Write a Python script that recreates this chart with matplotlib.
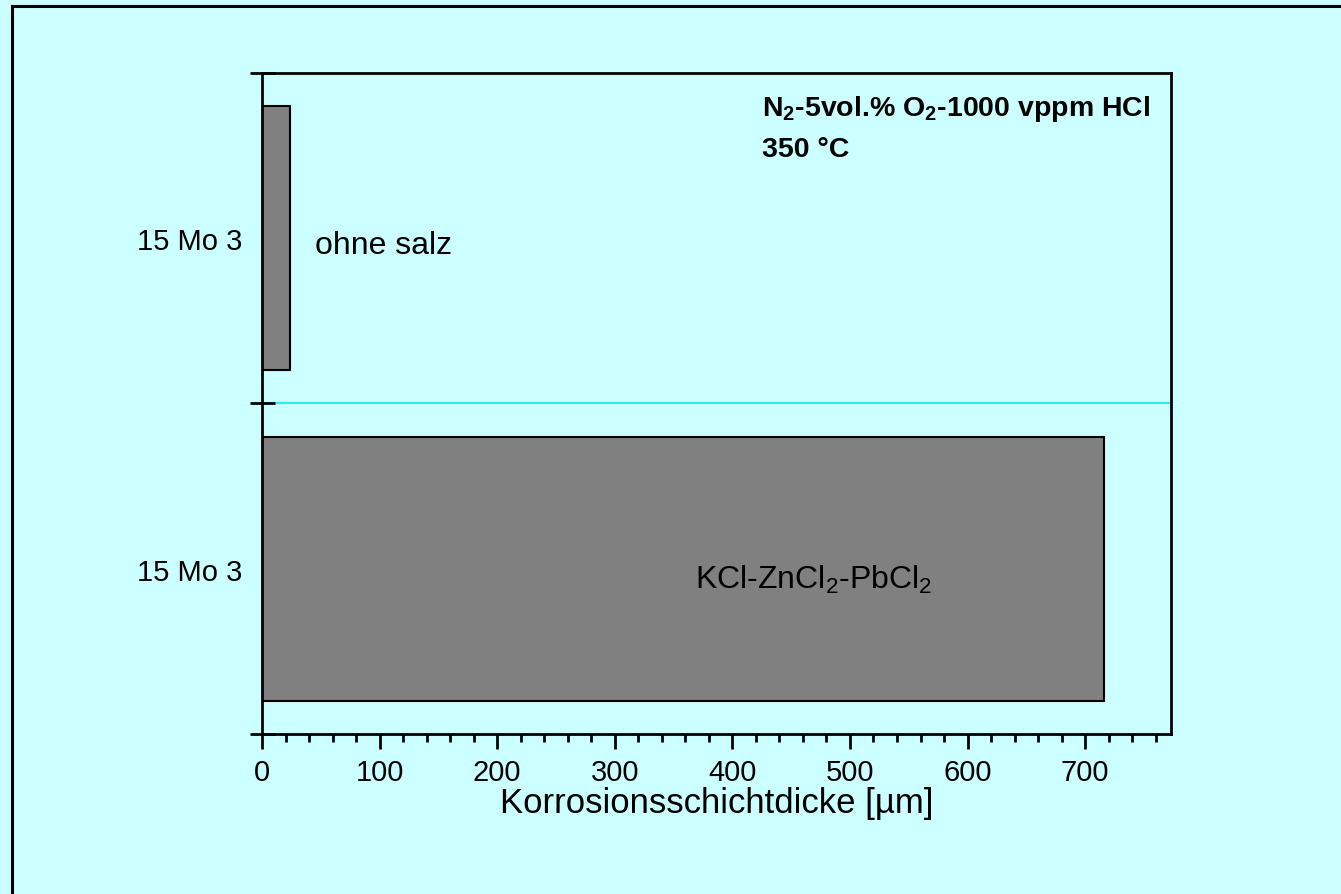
import numpy as np
import matplotlib.pyplot as plt
from matplotlib.lines import Line2D
from matplotlib.ticker import MultipleLocator, FixedLocator, NullFormatter

plt.rcParams['font.family'] = ['Liberation Sans', 'DejaVu Sans']
plt.rcParams['mathtext.fontset'] = 'custom'
plt.rcParams['mathtext.rm'] = 'Liberation Sans'
plt.rcParams['mathtext.bf'] = 'Liberation Sans:bold'
plt.rcParams['mathtext.default'] = 'rm'

# corrosion layer thickness, bottom to top
materials = ["15 Mo 3", "15 Mo 3"]
conditions = [r"KCl-ZnCl$_2$-PbCl$_2$", "ohne salz"]
thickness = [716, 24]

bg = "#ccffff"
fig = plt.figure(figsize=(13.41, 8.95), dpi=100, facecolor=bg)
ax = fig.add_axes([0.1954, 0.1788, 0.6778, 0.7385], facecolor=bg)

ypos = np.arange(len(thickness)) + 0.5
ax.barh(ypos, thickness, height=0.8, color="#808080", edgecolor="black", linewidth=1.5)
ax.axhline(1, color="#10e8f0", lw=1.2, zorder=0.5)

ax.set_xlim(0, 773)
ax.set_ylim(0, 2)
ax.xaxis.set_major_locator(MultipleLocator(100))
ax.xaxis.set_minor_locator(MultipleLocator(20))
ax.yaxis.set_major_locator(FixedLocator([0, 1, 2]))
ax.yaxis.set_major_formatter(NullFormatter())
ax.yaxis.set_minor_locator(FixedLocator(ypos))
ax.set_yticklabels(materials, minor=True)

ax.tick_params(axis='x', which='major', direction='out', length=11, width=2, labelsize=21, pad=6)
ax.tick_params(axis='x', which='minor', direction='out', length=6, width=2)
ax.tick_params(axis='y', which='major', direction='inout', length=18, width=2)
ax.tick_params(axis='y', which='minor', length=0, labelsize=21, pad=14)
for s in ax.spines.values():
    s.set_linewidth(2)

ax.set_xlabel("Korrosionsschichtdicke [µm]", fontsize=25, labelpad=0)

ax.text(45, ypos[1] - 0.02, conditions[1], fontsize=23, va='center', ha='left')
ax.text(368, ypos[0] - 0.03, conditions[0], fontsize=23, va='center', ha='left')
ax.text(425, 1.895, r"N$_\mathbf{2}$-5vol.% O$_\mathbf{2}$-1000 vppm HCl",
        fontsize=20.5, fontweight='bold', va='center', ha='left')
ax.text(425, 1.77, "350 °C", fontsize=20.5, fontweight='bold', va='center', ha='left')

# outer frame (top and left edges)
fig.add_artist(Line2D([12 / 1341, 12 / 1341], [0, 1 - 7 / 895], transform=fig.transFigure,
                      color="black", lw=2.2))
fig.add_artist(Line2D([12 / 1341, 1], [1 - 7 / 895, 1 - 7 / 895], transform=fig.transFigure,
                      color="black", lw=2.2))

fig.savefig("out.png", dpi=100, facecolor=bg)
